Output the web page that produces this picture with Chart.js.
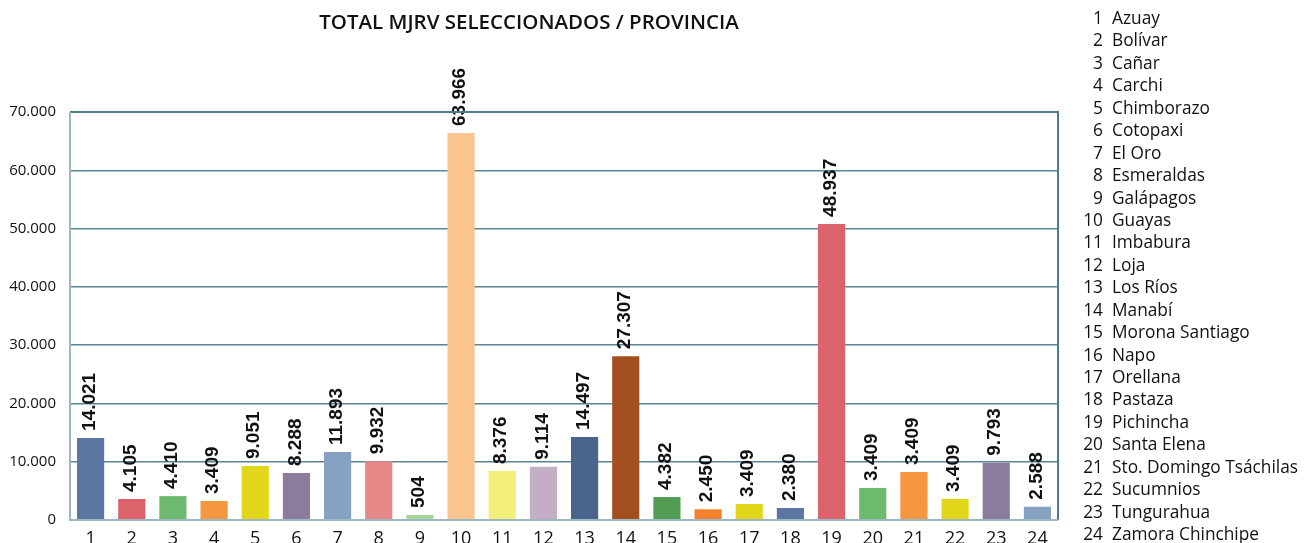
<!DOCTYPE html>
<html lang="es">
<head>
<meta charset="utf-8">
<title>Total MJRV seleccionados / provincia</title>
<script src="https://cdn.jsdelivr.net/npm/chart.js@4.4.1/dist/chart.umd.min.js"></script>
<style>
    html, body { margin: 0; padding: 0; background: #ffffff; }
    #wrap { position: relative; width: 1310px; height: 543px; overflow: hidden; }
    #chart-box { position: absolute; left: 0; top: 0; width: 1080px; height: 543px; }
    #provincias {
        position: absolute; left: 1078px; top: 7px; margin: 0; padding: 0;
        list-style: none; font-family: 'Open Sans', sans-serif; font-size: 17.3px;
        color: #111; line-height: 22.43px;
    }
    #provincias li { white-space: nowrap; }
    #provincias .n { display: inline-block; width: 25px; text-align: right; margin-right: 9px; }
</style>
</head>
<body>
<div id="wrap">
    <div id="chart-box"><canvas id="mjrv"></canvas></div>
    <ul id="provincias"></ul>
</div>
<script>
    // categorias (numero en el eje, nombre en la lista de la derecha)
    const provincias = [
        'Azuay', 'Bolívar', 'Cañar', 'Carchi', 'Chimborazo', 'Cotopaxi', 'El Oro', 'Esmeraldas',
        'Galápagos', 'Guayas', 'Imbabura', 'Loja', 'Los Ríos', 'Manabí', 'Morona Santiago', 'Napo',
        'Orellana', 'Pastaza', 'Pichincha', 'Santa Elena', 'Sto. Domingo Tsáchilas', 'Sucumnios',
        'Tungurahua', 'Zamora Chinchipe'
    ];
    // altura de cada barra
    const alturaBarras = [
        14070, 3600, 4100, 3260, 9260, 8060, 11660, 10100,
        860, 66400, 8400, 9140, 14240, 28100, 3940, 1840,
        2740, 2060, 50800, 5500, 8230, 3600, 9830, 2280
    ];
    // totales impresos sobre cada barra
    const totalesImpresos = [
        14021, 4105, 4410, 3409, 9051, 8288, 11893, 9932,
        504, 63966, 8376, 9114, 14497, 27307, 4382, 2450,
        3409, 2380, 48937, 3409, 3409, 3409, 9793, 2588
    ];
    const colores = [
        '#5b76a3', '#dc636b', '#6db96d', '#f59641', '#e2d61a', '#8b7b9d', '#87a1c3', '#e58887',
        '#a8d79a', '#f9c48e', '#f2f07a', '#c3aec6', '#4b648b', '#a34e1e', '#539c55', '#f3822e',
        '#e2d61a', '#5b76a3', '#dc636b', '#6db96d', '#f59641', '#e2d61a', '#8b7b9d', '#87a1c3'
    ];
    const yMax = 70000;
    const yPaso = 10000;

    const fmt = v => Number(v).toLocaleString('de-DE');
    const numeros = provincias.map((_, i) => String(i + 1));

    // lista de provincias a la derecha
    const lista = document.getElementById('provincias');
    provincias.forEach((p, i) => {
        const li = document.createElement('li');
        li.innerHTML = '<span class="n">' + (i + 1) + '</span>' + p;
        lista.appendChild(li);
    });

    // etiquetas verticales encima de cada barra
    const etiquetasBarras = {
        id: 'etiquetasBarras',
        afterDatasetsDraw(chart) {
            const { ctx } = chart;
            const meta = chart.getDatasetMeta(0);
            ctx.save();
            ctx.font = 'bold 19px "Liberation Sans", Arial, sans-serif';
            ctx.fillStyle = '#111';
            ctx.textAlign = 'left';
            ctx.textBaseline = 'middle';
            meta.data.forEach((bar, i) => {
                ctx.save();
                ctx.translate(bar.x - 1, bar.y - 7);
                ctx.rotate(-Math.PI / 2);
                ctx.fillText(fmt(totalesImpresos[i]), 0, 0);
                ctx.restore();
            });
            ctx.restore();
        }
    };

    // marco del area de graficado
    const marco = {
        id: 'marco',
        afterDraw(chart) {
            const { ctx, chartArea: a } = chart;
            ctx.save();
            ctx.lineWidth = 2;
            ctx.strokeStyle = '#4f7b8e';
            ctx.beginPath();
            ctx.moveTo(a.left, a.top);
            ctx.lineTo(a.right, a.top);
            ctx.lineTo(a.right, a.bottom);
            ctx.stroke();
            ctx.strokeStyle = '#9cb8c3';
            ctx.beginPath();
            ctx.moveTo(a.left, a.top);
            ctx.lineTo(a.left, a.bottom);
            ctx.lineTo(a.right, a.bottom);
            ctx.stroke();
            ctx.restore();
        }
    };

    new Chart(document.getElementById('mjrv'), {
        type: 'bar',
        data: {
            labels: numeros,
            datasets: [{
                data: alturaBarras,
                backgroundColor: colores,
                borderWidth: 0,
                barPercentage: 0.66,
                categoryPercentage: 1.0
            }]
        },
        options: {
            responsive: true,
            maintainAspectRatio: false,
            animation: false,
            layout: { padding: { left: 0, right: 22, top: 0, bottom: 0 } },
            plugins: {
                legend: { display: false },
                tooltip: { enabled: false },
                title: {
                    display: true,
                    text: 'TOTAL MJRV SELECCIONADOS / PROVINCIA',
                    color: '#111',
                    font: { family: 'Open Sans', size: 20.5, weight: '600', lineHeight: 1.2 },
                    padding: { top: 11, bottom: 76.4 }
                }
            },
            scales: {
                x: {
                    grid: { display: false, drawTicks: false },
                    border: { display: false },
                    ticks: {
                        color: '#111',
                        padding: 8,
                        maxRotation: 0,
                        autoSkip: false,
                        font: { family: 'Open Sans', size: 18 }
                    },
                    afterFit(scale) { scale.height = 23; }
                },
                y: {
                    min: 0,
                    max: yMax,
                    grid: { color: '#5a8597', lineWidth: 1.5, drawTicks: false },
                    border: { display: false },
                    ticks: {
                        stepSize: yPaso,
                        color: '#111',
                        padding: 14,
                        font: { family: 'Open Sans', size: 15 },
                        callback: v => fmt(v)
                    },
                    afterFit(scale) { scale.width = 70; }
                }
            }
        },
        plugins: [etiquetasBarras, marco]
    });
</script>
</body>
</html>
